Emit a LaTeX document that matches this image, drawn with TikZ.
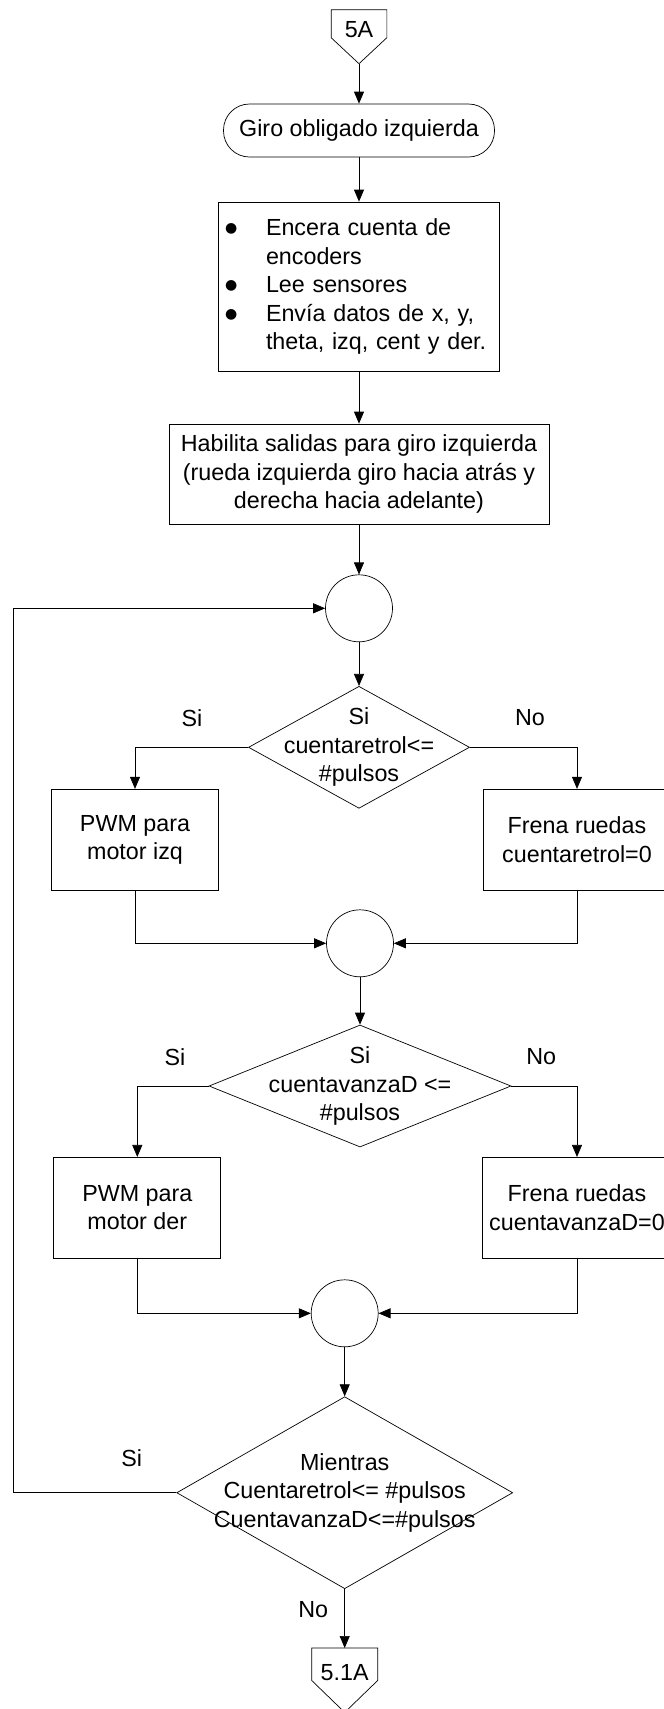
\documentclass[tikz,border=0pt]{standalone}
\usepackage{fontspec}
\setmainfont{Liberation Sans}
\newfontfamily\simbolos{DejaVu Sans}
\usetikzlibrary{shapes.geometric,arrows.meta}

\newcommand{\vineta}{\makebox[41pt][l]{\raisebox{3pt}{\simbolos\fontsize{14}{14}\selectfont ●}}}

\begin{document}
\begin{tikzpicture}[x=1pt,y=-1pt,
    font=\fontsize{23.3}{28.5}\selectfont,
    line width=0.7pt,
    >={Triangle[length=12pt,width=10pt]},
    box/.style={draw,rectangle,inner sep=0pt,align=center},
    terminal/.style={draw,rectangle,rounded corners=26pt,inner sep=0pt},
    junction/.style={draw,circle,minimum size=67pt,inner sep=0pt},
    decision/.style={draw,diamond,inner sep=0pt},
    offpage/.style={rectangle,inner sep=0pt,text depth=0pt}]
    \useasboundingbox (0,0) rectangle (664,1709);

    % entrada y preparacion
    \node[offpage,minimum width=55pt,text height=27.3pt] (in5A) at (359,23.7) {5A};
    \draw (in5A.north west) -- (in5A.north east) -- (in5A.south east)
        -- ([yshift=-26pt]in5A.south) -- (in5A.south west) -- cycle;
    \coordinate (in5Atip) at ([yshift=-26pt]in5A.south);
    \node[terminal,minimum width=271pt,minimum height=53pt] (giro) at (359,130.5) {Giro obligado izquierda};
    \node[box,minimum width=281pt,minimum height=169pt,text width=268pt,align=left] (enc) at (359,286.5)
        {\vineta Encera cuenta de\\
         \hspace*{41pt}encoders\\
         \vineta Lee sensores\\
         \vineta Envía datos de x, y,\\
         \hspace*{41pt}theta, izq, cent y der.};
    \node[box,minimum width=380pt,minimum height=100pt] (hab) at (359,474)
        {Habilita salidas para giro izquierda\\(rueda izquierda giro hacia atrás y\\derecha hacia adelante)};
    \draw[->] (in5Atip) -- (giro.north);
    \draw[->] (giro.south) -- (enc.north);
    \draw[->] (enc.south) -- (hab.north);

    % motor izquierdo
    \node[junction] (j1) at (359,608.3) {};
    \node[decision,minimum width=221pt,minimum height=122pt,
        label={[align=center]center:{Si\\cuentaretrol<=\\\#pulsos}}] (d1) at (359,747.3) {};
    \node (si1) at (192,718) {Si};
    \node (no1) at (530,717.3) {No};
    \node[box,minimum width=167pt,minimum height=101pt] (pwm1) at (135,839.7) {PWM para\\motor izq};
    \node[box,minimum width=187pt,minimum height=101pt] (fr1) at (577,839.7) {Frena ruedas\\cuentaretrol=0};
    \draw[->] (hab.south) -- (j1.north);
    \draw[->] (j1.south) -- (d1.north);
    \draw[->] (d1.west) -| (pwm1.north);
    \draw[->] (d1.east) -| (fr1.north);

    % motor derecho
    \node[junction] (j2) at (360,943.3) {};
    \node[decision,minimum width=302pt,minimum height=122pt,
        label={[align=center]center:{Si\\cuentavanzaD <=\\\#pulsos}}] (d2) at (360,1086) {};
    \node (si2) at (175,1056.7) {Si};
    \node (no2) at (541.3,1056.7) {No};
    \node[box,minimum width=167pt,minimum height=101pt] (pwm2) at (137.3,1207.8) {PWM para\\motor der};
    \node[box,minimum width=189pt,minimum height=101pt] (fr2) at (577,1207.8) {Frena ruedas\\cuentavanzaD=0};
    \draw[->] (pwm1.south) |- (j2.west);
    \draw[->] (fr1.south) |- (j2.east);
    \draw[->] (j2.south) -- (d2.north);
    \draw[->] (d2.west) -| (pwm2.north);
    \draw[->] (d2.east) -| (fr2.north);

    % condicion de repeticion
    \node[junction] (j3) at (344.7,1313.3) {};
    \node[decision,minimum width=336pt,minimum height=192pt,
        label={[align=center]center:{Mientras\\Cuentaretrol<= \#pulsos\\CuentavanzaD<=\#pulsos}}] (d3) at (344.7,1492.7) {};
    \node (si3) at (131.7,1458.3) {Si};
    \node (no3) at (313.3,1609.3) {No};
    \node[offpage,minimum width=65.4pt,text height=31.7pt] (out51A) at (344.7,1664.2) {5.1A};
    \draw (out51A.north west) -- (out51A.north east) -- (out51A.south east)
        -- ([yshift=-32pt]out51A.south) -- (out51A.south west) -- cycle;
    \coordinate (back) at (13.3,1492.7);
    \draw[->] (pwm2.south) |- (j3.west);
    \draw[->] (fr2.south) |- (j3.east);
    \draw[->] (j3.south) -- (d3.north);
    \draw[->] (d3.west) -- (back) |- (j1.west);
    \draw[->] (d3.south) -- (out51A.north);
\end{tikzpicture}
\end{document}
